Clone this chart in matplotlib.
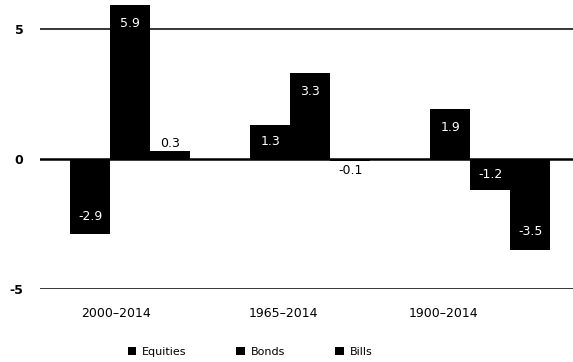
import numpy as np
import matplotlib
matplotlib.use('Agg')
import matplotlib.pyplot as plt

# Real returns by period
periods = ['2000\u20132014', '1965\u20132014', '1900\u20132014']
series = ['Equities', 'Bonds', 'Bills']
equities = [-2.9, 1.3, 1.9]
bonds = [5.9, 3.3, -1.2]
bills = [0.3, -0.1, -3.5]
label_text = [['-2.9', '1.3', '1.9'], ['5.9', '3.3', '-1.2'], ['0.3', '-0.1', '-3.5']]

fig = plt.figure(figsize=(5.73, 3.62), dpi=100)
ax = fig.add_axes([40 / 573, 73 / 362, 533 / 573, 289 / 362])

x = np.arange(len(periods))
width = 40 / 180

# gridlines
for yv in [5, -5]:
    ax.axhline(yv, color='black', lw=1.1, zorder=0)
ax.axhline(0, color='black', lw=1.8, zorder=3)

for i, vals in enumerate([equities, bonds, bills]):
    pos = x + (i - 1) * width
    ax.bar(pos, vals, width, color='black', label=series[i], zorder=2)
    for px, v, t in zip(pos, vals, label_text[i]):
        if abs(v) < 0.5:
            ty = v + 0.3 if v > 0 else v - 0.35
            ax.text(px, ty, t, color='black', ha='center', va='center', fontsize=9, zorder=4)
        else:
            off = min(0.7, abs(v) / 2)
            ty = v - np.sign(v) * off
            ax.text(px, ty, t, color='white', ha='center', va='center', fontsize=9, zorder=4)

ax.set_xlim(-0.5, 2.46)
ax.set_ylim(-5, 6.1)
ax.set_yticks([5, 0, -5])
ax.set_yticklabels(['5', '0', '-5'], fontsize=9, fontweight='bold')
ax.set_xticks([-0.08, 0.85, 1.74])
ax.set_xticklabels(periods, fontsize=9)
ax.tick_params(axis='y', length=0, pad=12)
ax.tick_params(axis='x', length=0, pad=13)
for s in ax.spines.values():
    s.set_visible(False)

fig.legend(loc='center', bbox_to_anchor=(250 / 573, 1 - 352 / 362), ncol=3,
           frameon=False, fontsize=8, handlelength=0.8, handleheight=0.8,
           handletextpad=0.5, columnspacing=4.5)

fig.savefig('out.png', dpi=100)
